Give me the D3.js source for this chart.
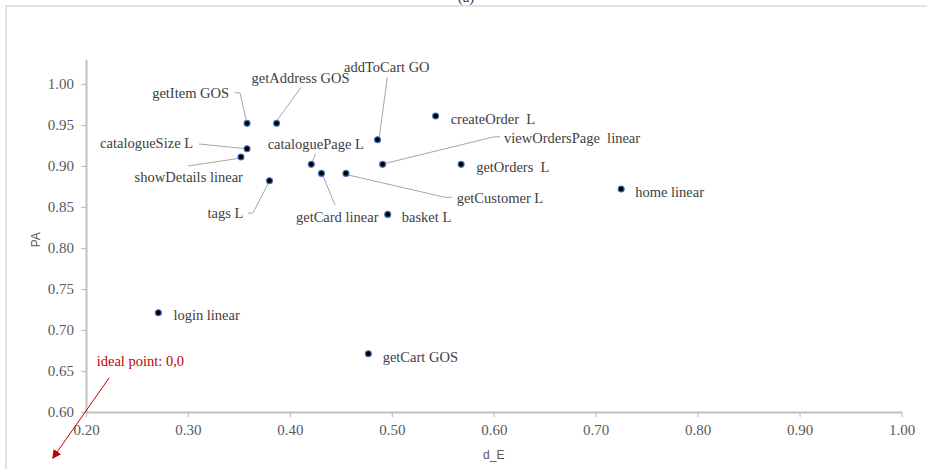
<!DOCTYPE html>
<html>
<head>
<meta charset="utf-8">
<script src="https://cdn.jsdelivr.net/npm/d3@7/dist/d3.min.js"></script>
<style>
  html, body { margin: 0; padding: 0; background: #fff; }
  svg { display: block; }
  text { white-space: pre; }
</style>
</head>
<body>
<svg id="chart" width="927" height="469"></svg>
<script>
// Operations, their d_E (x) and PA (y) values
const operations = [
  "getItem GOS", "getAddress GOS", "catalogueSize L", "showDetails linear",
  "tags L", "cataloguePage L", "getCard linear", "getCustomer L",
  "addToCart GO", "viewOrdersPage  linear", "createOrder  L", "basket L",
  "getOrders  L", "home linear", "login linear", "getCart GOS"
];
const dE = [0.358, 0.387, 0.358, 0.352, 0.380, 0.421, 0.431, 0.455,
            0.486, 0.491, 0.543, 0.496, 0.568, 0.725, 0.271, 0.477];
const PA = [0.952, 0.952, 0.921, 0.911, 0.882, 0.902, 0.891, 0.891,
            0.932, 0.902, 0.961, 0.841, 0.902, 0.872, 0.721, 0.671];

const xTicks = [0.2, 0.3, 0.4, 0.5, 0.6, 0.7, 0.8, 0.9, 1.0];
const yTicks = [0.60, 0.65, 0.70, 0.75, 0.80, 0.85, 0.90, 0.95, 1.00];

// Label placement: offset from the marker (anchor, dx, dy of text centre)
// and optional leader line points, all relative to the marker.
const labelLayout = [
  { a: "end",   dx: -18,   dy: -30.4, lead: [[-12, -30.7], [-7, -30.4], [-1, -3.5]] },
  { a: "start", dx: -25,   dy: -45,   lead: [[24.4, -36], [0.5, -3]] },
  { a: "end",   dx: -54,   dy: -5.5,  lead: [[-48, -4.8], [-3.5, -0.3]] },
  { a: "end",   dx: 2,     dy: 20.3,  lead: [[-52.7, 9], [-3, 1.5]] },
  { a: "end",   dx: -26.2, dy: 32.5,  lead: [[-21.5, 32.5], [-16.5, 32.2], [-1.5, 3.2]] },
  { a: "start", dx: -43.6, dy: -20,   lead: [[4.4, -11], [1.4, -3.4]] },
  { a: "start", dx: -25.5, dy: 43.3,  lead: [[13.5, 31.6], [1.8, 3.1]] },
  { a: "start", dx: 110.7, dy: 24.9,  lead: [[2.3, 1.6], [99, 23.9], [106, 23.9]] },
  { a: "start", dx: -33.5, dy: -73.1, lead: [[9.8, -62.5], [1.8, -2.8]] },
  { a: "start", dx: 121.4, dy: -26.1, lead: [[2.4, -0.9], [110.7, -27.4], [117.4, -27.7]] },
  { a: "start", dx: 15,    dy: 2.7 },
  { a: "start", dx: 14,    dy: 2.3 },
  { a: "start", dx: 15,    dy: 3 },
  { a: "start", dx: 14,    dy: 2.7 },
  { a: "start", dx: 15,    dy: 2.2 },
  { a: "start", dx: 14.3,  dy: 2.9 }
];

const svg = d3.select("#chart");

// Outer chart frame
svg.append("rect")
  .attr("x", 6).attr("y", 6).attr("width", 940).attr("height", 480)
  .attr("fill", "none").attr("stroke", "#d9d9d9").attr("stroke-width", 1.5);

// Chart title, mostly clipped by the top of the frame
svg.append("text")
  .attr("x", 466).attr("y", 2)
  .attr("text-anchor", "middle")
  .attr("font-family", "Liberation Serif, serif")
  .attr("font-size", 15).attr("fill", "#404040")
  .text("(a)");

const x = d3.scaleLinear().domain([0.2, 1.0]).range([86, 901.5]);
const y = d3.scaleLinear().domain([0.6, 1.03]).range([412, 59.4]);

const axisColor = "#bfbfbf";
const tickFont = "Liberation Serif, serif";

// X axis
const gx = svg.append("g").attr("transform", `translate(0,${y(0.6)})`)
  .call(d3.axisBottom(x).tickValues(xTicks).tickSizeInner(5).tickSizeOuter(0).tickPadding(7)
    .tickFormat(d3.format(".2f")));
gx.select(".domain").attr("stroke", axisColor).attr("stroke-width", 2);
gx.selectAll(".tick line").attr("stroke", axisColor).attr("stroke-width", 1.2);
gx.selectAll(".tick text").attr("font-family", tickFont).attr("font-size", 15).attr("fill", "#595959");

// Y axis
const gy = svg.append("g").attr("transform", `translate(${x(0.2)},0)`)
  .call(d3.axisLeft(y).tickValues(yTicks).tickSizeInner(5).tickSizeOuter(0).tickPadding(7)
    .tickFormat(d3.format(".2f")));
gy.select(".domain").attr("stroke", axisColor).attr("stroke-width", 2);
gy.selectAll(".tick line").attr("stroke", axisColor).attr("stroke-width", 1.2);
gy.selectAll(".tick text").attr("font-family", tickFont).attr("font-size", 15).attr("fill", "#595959");

// Axis titles
svg.append("text")
  .attr("x", (x.range()[0] + x.range()[1]) / 2).attr("y", 459)
  .attr("text-anchor", "middle")
  .attr("font-family", "Liberation Sans, sans-serif").attr("font-size", 12).attr("fill", "#595959")
  .text("d_E");
svg.append("text")
  .attr("transform", `translate(40,${(y.range()[0] + y.range()[1]) / 2 + 4}) rotate(-90)`)
  .attr("text-anchor", "middle")
  .attr("font-family", "Liberation Sans, sans-serif").attr("font-size", 12).attr("fill", "#595959")
  .text("PA");

const points = operations.map((name, i) => ({ name, x: dE[i], y: PA[i], lay: labelLayout[i] }));

// Leader lines
svg.append("g").selectAll("polyline")
  .data(points.filter(p => p.lay.lead))
  .join("polyline")
  .attr("points", p => p.lay.lead.map(([dx, dy]) => [x(p.x) + dx, y(p.y) + dy].join(",")).join(" "))
  .attr("fill", "none").attr("stroke", "#a6a6a6").attr("stroke-width", 1);

// Markers
svg.append("g").selectAll("circle")
  .data(points)
  .join("circle")
  .attr("cx", p => x(p.x)).attr("cy", p => y(p.y))
  .attr("r", 3)
  .attr("fill", "#000").attr("stroke", "#4472c4").attr("stroke-width", 1.1);

// Point labels
svg.append("g").selectAll("text")
  .data(points)
  .join("text")
  .attr("x", p => x(p.x) + p.lay.dx)
  .attr("y", p => y(p.y) + p.lay.dy + 5)
  .attr("text-anchor", p => p.lay.a)
  .attr("font-family", "Liberation Serif, serif")
  .attr("font-size", 14.5).attr("fill", "#404040")
  .text(p => p.name);

// Ideal point annotation with arrow towards the origin
const ox = x(0.2), oy = y(0.6);
svg.append("defs").append("marker")
  .attr("id", "arrowhead")
  .attr("viewBox", "0 0 10 10").attr("refX", 9).attr("refY", 5)
  .attr("markerWidth", 9).attr("markerHeight", 9)
  .attr("markerUnits", "userSpaceOnUse")
  .attr("orient", "auto")
  .append("path").attr("d", "M0,0 L10,5 L0,10 Z").attr("fill", "#c00000");

svg.append("line")
  .attr("x1", ox + 23.3).attr("y1", oy - 34.3)
  .attr("x2", ox - 33.3).attr("y2", oy + 46.3)
  .attr("stroke", "#c00000").attr("stroke-width", 1)
  .attr("marker-end", "url(#arrowhead)");

svg.append("text")
  .attr("x", ox + 10.7).attr("y", oy - 51.3 + 5)
  .attr("font-family", "Liberation Serif, serif")
  .attr("font-size", 14.5).attr("fill", "#c00000")
  .text("ideal point: 0,0");
</script>
</body>
</html>
